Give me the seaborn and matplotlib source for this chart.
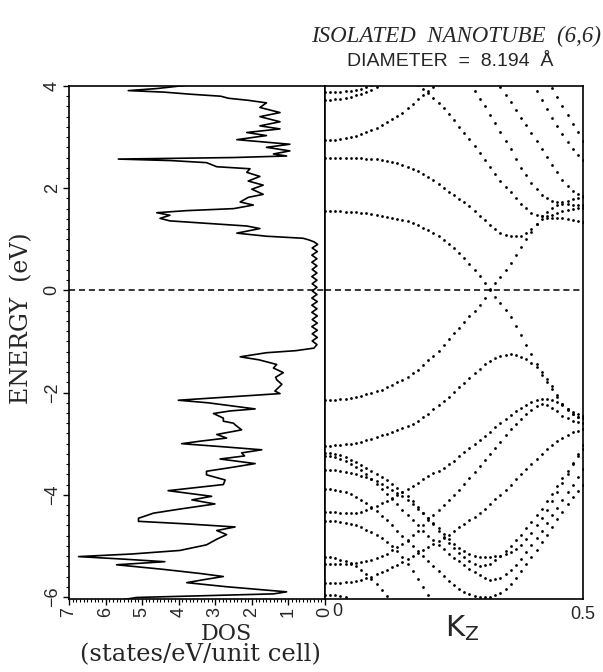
import numpy as np
import pandas as pd
import seaborn as sns
from matplotlib import pyplot as plt
from matplotlib.ticker import MultipleLocator

nan = float("nan")

# density of states, traced from top (E = 4 eV) to bottom (E = -6 eV)
dos_energy = [4.02, 3.95, 3.91, 3.88, 3.84, 3.80, 3.76, 3.72, 3.67, 3.58, 3.48, 3.40, 3.30, 3.22, 3.16,
              3.09, 3.03, 2.95, 2.86, 2.80, 2.73, 2.67, 2.63, 2.60, 2.57, 2.54, 2.50, 2.42, 2.38, 2.31,
              2.23, 2.14, 2.06, 1.98, 1.88, 1.82, 1.73, 1.67, 1.60, 1.56, 1.52, 1.47, 1.41, 1.36, 1.30,
              1.26, 1.21, 1.12, 1.06, 1.02, 0.99, 0.95,
              0.90, 0.83, 0.76, 0.69, 0.62, 0.55, 0.48, 0.41, 0.34, 0.27, 0.20, 0.13, 0.06, -0.01,
              -0.08, -0.15, -0.22, -0.29, -0.36, -0.43, -0.50, -0.57, -0.64, -0.71, -0.78, -0.85,
              -0.92, -0.99, -1.06, -1.13, -1.18,
              -1.22, -1.30, -1.36, -1.45, -1.52, -1.61, -1.70, -1.75, -1.84, -1.97, -2.02, -2.08,
              -2.15, -2.20, -2.32, -2.36, -2.41, -2.50, -2.56, -2.60, -2.63, -2.73, -2.82, -2.89,
              -2.95, -3.00, -3.06, -3.12, -3.18, -3.24, -3.30, -3.39, -3.47, -3.54, -3.61, -3.71,
              -3.80, -3.92, -4.03, -4.10, -4.18, -4.28, -4.36, -4.46, -4.52, -4.57, -4.63, -4.70,
              -4.78, -4.87, -4.98, -5.09, -5.16, -5.21, -5.26, -5.31, -5.37, -5.42, -5.46, -5.54,
              -5.60, -5.66, -5.72, -5.80, -5.90, -5.94, -5.98, -6.01, -6.05]
dos_value = [3.72, 4.60, 5.38, 4.40, 3.69, 2.85, 2.64, 2.10, 1.60, 1.78, 1.23, 1.78, 1.23, 1.78, 1.23,
             2.14, 1.60, 2.41, 0.96, 1.60, 0.96, 1.41, 1.05, 2.50, 5.65, 4.20, 3.24, 2.96, 2.05, 2.14,
             1.78, 2.10, 1.69, 2.00, 1.69, 2.10, 2.32, 1.96, 2.50, 3.80, 4.60, 4.24, 4.51, 4.24, 3.00,
             2.14, 1.78, 2.41, 1.60, 0.60, 0.45, 0.30,
             0.20, 0.35, 0.21, 0.36, 0.22, 0.36, 0.22, 0.35, 0.22, 0.36, 0.22, 0.35, 0.22, 0.35,
             0.22, 0.36, 0.21, 0.36, 0.22, 0.36, 0.21, 0.35, 0.21, 0.36, 0.21, 0.35,
             0.21, 0.35, 0.22, 0.30, 0.80,
             1.60, 2.32, 1.80, 1.32, 1.41, 1.14, 1.35, 1.32, 1.18, 1.37, 1.23, 2.50,
             4.01, 3.20, 1.91, 2.60, 3.05, 2.78, 2.78, 2.50, 2.46, 2.28, 2.96, 2.69,
             3.40, 3.92, 2.80, 1.73, 2.28, 2.20, 2.87, 1.91, 2.60, 3.24, 3.24, 2.73,
             2.78, 4.29, 3.10, 3.64, 3.01, 3.97, 4.69, 5.10, 5.10, 3.78, 2.46, 2.96,
             2.69, 2.96, 3.24, 3.97, 5.30, 6.74, 5.50, 4.38, 5.70, 5.00, 4.42, 3.42,
             2.78, 3.30, 3.78, 2.69, 1.05, 1.41, 3.50, 5.15, 5.50]

# band energies (eV) at kz = 0.00, 0.01, ... 0.50 (nan = outside the window)
kz = [0.00, 0.01, 0.02, 0.03, 0.04, 0.05, 0.06, 0.07, 0.08, 0.09,
      0.10, 0.11, 0.12, 0.13, 0.14, 0.15, 0.16, 0.17, 0.18, 0.19,
      0.20, 0.21, 0.22, 0.23, 0.24, 0.25, 0.26, 0.27, 0.28, 0.29,
      0.30, 0.31, 0.32, 0.33, 0.34, 0.35, 0.36, 0.37, 0.38, 0.39,
      0.40, 0.41, 0.42, 0.43, 0.44, 0.45, 0.46, 0.47, 0.48, 0.49,
      0.50]

band_pi_star = [1.55, 1.55, 1.55, 1.55, 1.54, 1.54, 1.53, 1.52, 1.51, 1.50,
                1.48, 1.46, 1.44, 1.42, 1.40, 1.38, 1.35, 1.31, 1.27, 1.23,
                1.18, 1.13, 1.07, 0.99, 0.91, 0.83, 0.74, 0.63, 0.52, 0.40,
                0.28, 0.14, 0.00, -0.12, -0.25, -0.39, -0.53, -0.70, -0.88, -1.06,
                -1.25, -1.45, -1.65, -1.80, -1.93, -2.08, -2.22, -2.33, -2.42, -2.47,
                -2.50]
band_pi = [-2.15, -2.15, -2.14, -2.13, -2.12, -2.10, -2.08, -2.06, -2.03, -2.00,
           -1.97, -1.94, -1.90, -1.85, -1.80, -1.75, -1.69, -1.62, -1.55, -1.46,
           -1.37, -1.28, -1.18, -1.07, -0.95, -0.84, -0.73, -0.62, -0.51, -0.40,
           -0.28, -0.14, 0.02, 0.14, 0.27, 0.40, 0.54, 0.69, 0.84, 1.00,
           1.15, 1.30, 1.45, 1.54, 1.62, 1.67, 1.72, 1.75, 1.78, 1.80,
           1.82]
band_c2 = [2.59, 2.59, 2.59, 2.59, 2.59, 2.59, 2.59, 2.59, 2.58, 2.58,
           2.57, 2.56, 2.54, 2.52, 2.50, 2.46, 2.42, 2.38, 2.33, 2.28,
           2.22, 2.16, 2.09, 2.01, 1.93, 1.86, 1.79, 1.72, 1.65, 1.55,
           1.46, 1.37, 1.28, 1.20, 1.13, 1.09, 1.07, 1.06, 1.07, 1.12,
           1.20, 1.30, 1.39, 1.41, 1.42, 1.42, 1.42, 1.40, 1.38, 1.35,
           1.33]
band_c3 = [2.94, 2.94, 2.95, 2.96, 2.98, 3.00, 3.03, 3.06, 3.10, 3.14,
           3.18, 3.23, 3.29, 3.35, 3.41, 3.48, 3.56, 3.65, 3.74, 3.82,
           3.90, 3.99, 4.08] + [nan] * 28
band_c4 = [nan] * 16 + [4.20, 4.11, 4.02, 3.94,
           3.86, 3.76, 3.66, 3.56, 3.45, 3.33, 3.20, 3.08, 2.96, 2.83,
           2.69, 2.56, 2.42, 2.28, 2.15, 2.03, 1.92, 1.81, 1.70, 1.61,
           1.52, 1.48, 1.45, 1.46, 1.48, 1.51, 1.55, 1.58, 1.60, 1.61,
           1.62]
band_c5 = [nan] * 28 + [4.05, 3.90,
           3.75, 3.60, 3.44, 3.27, 3.10, 2.93, 2.76, 2.58, 2.40, 2.25,
           2.11, 1.98, 1.87, 1.80, 1.74, 1.72, 1.70, 1.69, 1.68, 1.67,
           1.67]
band_c6 = [nan] * 33 + [4.13, 3.98, 3.83, 3.68, 3.53, 3.38, 3.23,
           3.08, 2.92, 2.77, 2.61, 2.46, 2.31, 2.16, 2.05, 1.95, 1.89,
           1.84]
band_c7 = [nan] * 40 + [4.08, 3.90, 3.72, 3.55, 3.38, 3.22, 3.06, 2.91, 2.76, 2.65,
           2.56]
band_c8 = [nan] * 44 + [3.96, 3.78, 3.60, 3.43, 3.26, 3.09,
           2.92]
band_c9 = [3.73, 3.73, 3.74, 3.75, 3.77, 3.79, 3.82, 3.85, 3.89, 3.93,
           3.98, 4.03] + [nan] * 39
band_c10 = [3.89, 3.89, 3.89, 3.89, 3.90, 3.91, 3.93, 3.95, 3.98, 4.01] + [nan] * 41
band_v2 = [-3.04, -3.04, -3.03, -3.02, -3.01, -3.00, -2.98, -2.96, -2.93, -2.90,
           -2.87, -2.84, -2.81, -2.78, -2.74, -2.70, -2.66, -2.61, -2.55, -2.48,
           -2.41, -2.33, -2.25, -2.17, -2.08, -1.99, -1.90, -1.81, -1.72, -1.62,
           -1.53, -1.45, -1.38, -1.32, -1.28, -1.26, -1.25, -1.27, -1.30, -1.35,
           -1.42, -1.50, -1.60, -1.73, -1.88, -2.05, -2.22, -2.34, -2.42, -2.47,
           -2.50]
band_v3 = [-3.18, -3.18, -3.20, -3.23, -3.26, -3.31, -3.36, -3.42, -3.48, -3.54,
           -3.60, -3.66, -3.72, -3.79, -3.86, -3.94, -4.02, -4.13, -4.24, -4.35,
           -4.46, -4.58, -4.70, -4.82, -4.94, -5.04, -5.14, -5.22, -5.30, -5.35,
           -5.39, -5.38, -5.35, -5.28, -5.20, -5.10, -5.00, -4.89, -4.78, -4.66,
           -4.53, -4.40, -4.27, -4.13, -3.98, -3.83, -3.68, -3.53, -3.38, -3.24,
           -3.10]
band_v4 = [-3.25, -3.25, -3.27, -3.30, -3.33, -3.39, -3.45, -3.52, -3.60, -3.69,
           -3.78, -3.88, -3.98, -4.08, -4.18, -4.29, -4.40, -4.50, -4.60, -4.70,
           -4.80, -4.89, -4.98, -5.07, -5.15, -5.23, -5.30, -5.38, -5.45, -5.52,
           -5.58, -5.63, -5.66, -5.65, -5.62, -5.56, -5.48, -5.37, -5.25, -5.12,
           -4.98, -4.84, -4.70, -4.55, -4.40, -4.25, -4.10, -3.95, -3.80, -3.65,
           -3.50]
band_v5 = [-3.51, -3.51, -3.52, -3.53, -3.55, -3.57, -3.60, -3.63, -3.66, -3.70,
           -3.74, -3.79, -3.84, -3.90, -3.96, -4.03, -4.10, -4.18, -4.27, -4.36,
           -4.45, -4.55, -4.66, -4.76, -4.87, -4.96, -5.05, -5.11, -5.16, -5.19,
           -5.21, -5.21, -5.21, -5.20, -5.19, -5.16, -5.12, -5.06, -4.98, -4.87,
           -4.75, -4.60, -4.45, -4.29, -4.12, -3.95, -3.77, -3.59, -3.40, -3.21,
           -3.02]
band_v6 = [-3.88, -3.88, -3.90, -3.92, -3.95, -3.99, -4.04, -4.10, -4.16, -4.24,
           -4.32, -4.41, -4.50, -4.60, -4.70, -4.80, -4.90, -5.00, -5.10, -5.20,
           -5.30, -5.40, -5.50, -5.59, -5.68, -5.76, -5.84, -5.90, -5.95, -5.99,
           -6.01, -6.01, -6.00, -5.97, -5.92, -5.84, -5.75, -5.63, -5.50, -5.36,
           -5.22, -5.08, -4.93, -4.78, -4.63, -4.48, -4.33, -4.19, -4.05, -3.92,
           -3.80]
band_v7 = [-4.33, -4.33, -4.34, -4.35, -4.35, -4.35, -4.35, -4.33, -4.30, -4.26,
           -4.22, -4.17, -4.12, -4.06, -4.00, -3.94, -3.88, -3.82, -3.76, -3.70,
           -3.64, -3.58, -3.53, -3.47, -3.40, -3.33, -3.25, -3.16, -3.08, -3.00,
           -2.93, -2.85, -2.77, -2.68, -2.60, -2.52, -2.44, -2.37, -2.30, -2.24,
           -2.18, -2.14, -2.12, -2.12, -2.14, -2.19, -2.25, -2.32, -2.38, -2.42,
           -2.45]
band_v8 = [-4.51, -4.51, -4.52, -4.53, -4.55, -4.57, -4.60, -4.64, -4.68, -4.73,
           -4.78, -4.85, -4.92, -5.00, -5.10, -5.22, -5.35, -5.50, -5.65, -5.81,
           -5.97] + [nan] * 30
band_v9 = [-5.36, -5.36, -5.36, -5.36, -5.35, -5.34, -5.33, -5.32, -5.30, -5.27,
           -5.24, -5.20, -5.15, -5.09, -5.03, -4.96, -4.88, -4.79, -4.70, -4.60,
           -4.50, -4.40, -4.30, -4.20, -4.10, -4.00, -3.90, -3.79, -3.68, -3.56,
           -3.44, -3.32, -3.20, -3.08, -2.96, -2.84, -2.72, -2.61, -2.51, -2.42,
           -2.34, -2.27, -2.23, -2.24, -2.30, -2.37, -2.45, -2.50, -2.55, -2.58,
           -2.60]
band_v10 = [-5.73, -5.73, -5.73, -5.72, -5.71, -5.70, -5.68, -5.66, -5.63, -5.60,
            -5.56, -5.52, -5.47, -5.42, -5.37, -5.32, -5.26, -5.20, -5.14, -5.08,
            -5.02, -4.96, -4.90, -4.84, -4.78, -4.71, -4.64, -4.57, -4.50, -4.43,
            -4.35, -4.27, -4.18, -4.09, -4.00, -3.90, -3.80, -3.70, -3.60, -3.50,
            -3.40, -3.30, -3.20, -3.11, -3.02, -2.95, -2.88, -2.83, -2.78, -2.75,
            -2.72]
band_v11 = [-5.21, -5.22, -5.24, -5.27, -5.30, -5.35, -5.40, -5.47, -5.55, -5.65,
            -5.75, -5.86, -5.98] + [nan] * 38
band_v12 = [-5.96, -5.96, -5.97, -5.98, -6.00] + [nan] * 46

all_bands = [band_pi_star, band_pi, band_c2, band_c3, band_c4, band_c5, band_c6, band_c7,
             band_c8, band_c9, band_c10, band_v2, band_v3, band_v4, band_v5, band_v6, band_v7,
             band_v8, band_v9, band_v10, band_v11, band_v12]

rows = []
for i, b in enumerate(all_bands):
    for k, e in zip(kz, b):
        rows.append((i, k, e))
bands_df = pd.DataFrame(rows, columns=["band", "kz", "energy"]).dropna()

sns.set_theme(style="ticks")
plt.rcParams['font.family'] = ['DejaVu Sans']

W, H = 603, 672
fig = plt.figure(figsize=(W / 100, H / 100), dpi=100)
left, mid, right = 69 / W, 325 / W, 583 / W
bottom, top = 1 - 599 / H, 1 - 86 / H
ax1 = fig.add_axes([left, bottom, mid - left, top - bottom])
ax2 = fig.add_axes([mid, bottom, right - mid, top - bottom])

ylim = (-6.04, 4.0)
tick_font = {"family": "Liberation Sans", "size": 13}

# DOS panel
sns.lineplot(x=dos_value, y=dos_energy, sort=False, estimator=None, ax=ax1,
             color="black", linewidth=1.2)
ax1.axhline(0, color="black", linestyle=(0, (4, 2.5)), linewidth=1.1)
ax1.set_xlim(7, 0)
ax1.set_ylim(*ylim)
ax1.set_xticks(range(8))
ax1.set_xticklabels([str(v) for v in range(8)], rotation=90, fontdict=tick_font)
ax1.set_yticks([-6, -4, -2, 0, 2, 4])
ax1.set_yticklabels(["\u22126", "\u22124", "\u22122", "0", "2", "4"], rotation=90,
                    va="center", fontdict=tick_font)
ax1.xaxis.set_minor_locator(MultipleLocator(0.1))
ax1.yaxis.set_minor_locator(MultipleLocator(0.2))
ax1.tick_params(which="major", direction="out", length=4, width=1, color="black", pad=2)
ax1.tick_params(which="minor", direction="out", length=2, width=0.8, color="black")
ax1.set_xlabel("")
ax1.set_ylabel("")

# band structure panel
sns.scatterplot(data=bands_df, x="kz", y="energy", ax=ax2, color="black", s=4,
                linewidth=0, legend=False)
ax2.axhline(0, color="black", linestyle=(0, (4, 2.5)), linewidth=1.1)
ax2.set_xlim(0, 0.5)
ax2.set_ylim(*ylim)
ax2.set_yticks([])
ax2.set_xticks([0.5])
ax2.set_xticklabels(["0.5"], fontdict=tick_font)
ax2.tick_params(length=0, pad=5)
ax2.set_xlabel("")
ax2.set_ylabel("")

for ax in (ax1, ax2):
    for sp in ax.spines.values():
        sp.set_visible(True)
        sp.set_color("black")
        sp.set_linewidth(1.2)

# texts
fig.text(337 / W, 1 - 612 / H, "0", family="Liberation Sans", fontsize=13,
         ha="center", va="center")
fig.text(456 / W, 1 - 36 / H, "ISOLATED  NANOTUBE  (6,6)", family="Liberation Serif",
         style="italic", fontsize=16.5, ha="center", va="center")
fig.text(450 / W, 1 - 62 / H, "DIAMETER  =  8.194  \u00c5", family="Liberation Sans",
         fontsize=14, ha="center", va="center")
fig.text(22 / W, 1 - 318 / H, "ENERGY  (eV)", family="DejaVu Serif", fontsize=17,
         rotation=90, ha="center", va="center")
fig.text(226 / W, 1 - 634 / H, "DOS", family="DejaVu Serif", fontsize=16,
         ha="center", va="center")
fig.text(200 / W, 1 - 655 / H, "(states/eV/unit cell)", family="DejaVu Serif", fontsize=17.5,
         ha="center", va="center")
fig.text(462 / W, 1 - 628 / H, r"K$_\mathsf{Z}$", family="DejaVu Sans", fontsize=21,
         ha="center", va="center")

fig.savefig("out.png", dpi=100)
